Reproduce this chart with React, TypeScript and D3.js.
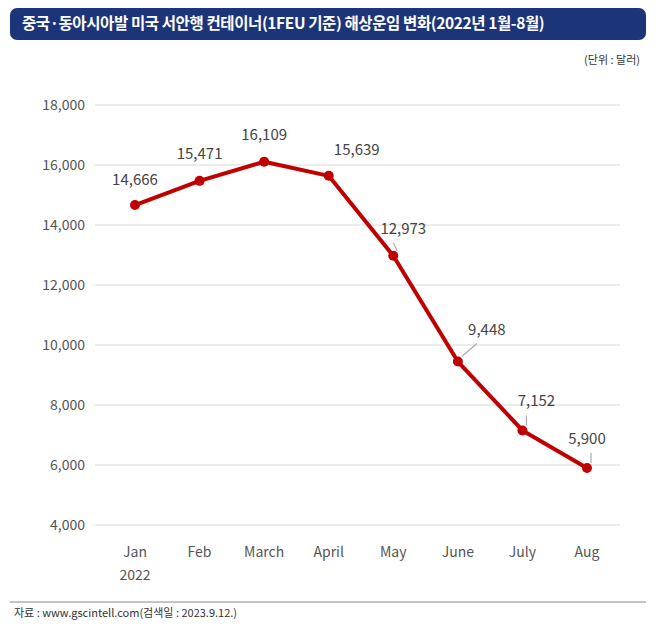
import React from 'react';
import * as d3 from 'd3';

const months = ['Jan', 'Feb', 'March', 'April', 'May', 'June', 'July', 'Aug'];
const freight = [14666, 15471, 16109, 15639, 12973, 9448, 7152, 5900];
const yTicks = [4000, 6000, 8000, 10000, 12000, 14000, 16000, 18000];

// label nudges [dx, dy] relative to each point, and whether a leader line is drawn
const labelShift: [number, number, boolean][] = [
  [0, -20, false], [0, -22, false], [0, -22, false], [28, -21, false],
  [10, -22, true], [29, -27, true], [14, -24, true], [0, -24, true],
];

const W = 656, H = 631;
const font = '"Noto Sans CJK KR", "Noto Sans", sans-serif';

export default function App() {
  const x = d3.scalePoint<string>().domain(months).range([135, 587]);
  const y = d3.scaleLinear().domain([4000, 18000]).range([525, 105]);
  const line = d3.line<number>()
    .x((_, i) => x(months[i])!)
    .y(d => y(d));
  const fmt = d3.format(',');

  return (
    <svg width={W} height={H} style={{ position: 'absolute', left: 0, top: 0, background: '#fff' }}>
      <rect x={10} y={8} width={636} height={32} rx={7} fill="#1c3579" />
      <text x={22} y={29} fill="#fff" fontFamily={font} fontSize={15.5} fontWeight={700} letterSpacing={-0.4}>
        중국·동아시아발 미국 서안행 컨테이너(1FEU 기준) 해상운임 변화(2022년 1월-8월)
      </text>
      <text x={640} y={64} textAnchor="end" fontFamily={font} fontSize={11} fill="#333">(단위 : 달러)</text>

      {yTicks.map(t => (
        <g key={t}>
          <line x1={95} x2={620} y1={y(t)} y2={y(t)} stroke="#d9d9d9" />
          <text x={85} y={y(t)} dy="0.35em" textAnchor="end" fontFamily={font} fontSize={14} fill="#555">{fmt(t)}</text>
        </g>
      ))}
      {months.map(m => (
        <text key={m} x={x(m)} y={557} textAnchor="middle" fontFamily={font} fontSize={14} fill="#555">{m}</text>
      ))}
      <text x={x('Jan')} y={580} textAnchor="middle" fontFamily={font} fontSize={14} fill="#555">2022</text>

      <path d={line(freight)!} fill="none" stroke="#c00000" strokeWidth={4} strokeLinejoin="round" />
      {freight.map((v, i) => {
        const px = x(months[i])!, py = y(v);
        const [dx, dy, lead] = labelShift[i];
        return (
          <g key={i}>
            {lead && <line x1={px + 4} y1={py - 5} x2={px + dx - (dx > 5 ? 14 : 0) + 4} y2={py + dy + 9} stroke="#aaa" strokeWidth={1.2} />}
            <circle cx={px} cy={py} r={5} fill="#c00000" />
            <text x={px + dx} y={py + dy} textAnchor="middle" fontFamily={font} fontSize={15} fill="#444">{fmt(v)}</text>
          </g>
        );
      })}

      <line x1={10} x2={646} y1={602} y2={602} stroke="#888" />
      <text x={14} y={617} fontFamily={font} fontSize={11} fill="#333">자료 : www.gscintell.com(검색일 : 2023.9.12.)</text>
    </svg>
  );
}
